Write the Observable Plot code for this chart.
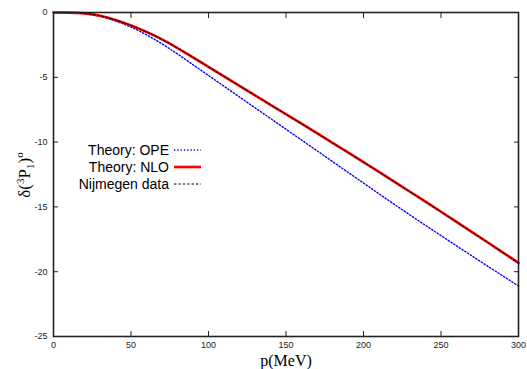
<!DOCTYPE html>
<html>
<head>
<meta charset="utf-8">
<script src="https://cdn.jsdelivr.net/npm/d3@7"></script>
<script src="https://cdn.jsdelivr.net/npm/@observablehq/plot@0.6"></script>
<style>
  html, body { margin: 0; padding: 0; background: #fff; }
  #chart svg { display: block; }
</style>
</head>
<body>
<div id="chart"></div>
<script>
// momentum p (MeV)
const pValues = [0, 10, 20, 30, 40, 50, 60, 70, 80, 90, 100, 110, 120, 130, 140, 150, 160, 170, 180, 190, 200, 210, 220, 230, 240, 250, 260, 270, 280, 290, 300];
// Theory: OPE (blue dotted)
const opeValues = [0, -0.01, -0.09, -0.3, -0.66, -1.13, -1.72, -2.42, -3.2, -4.03, -4.86, -5.69, -6.52, -7.35, -8.18, -9.01, -9.84, -10.67, -11.5, -12.33, -13.16, -13.99, -14.815, -15.625, -16.425, -17.215, -18.005, -18.785, -19.565, -20.335, -21.1];
// Theory: NLO (red solid)
const nloValues = [0, -0.01, -0.07, -0.25, -0.58, -1.0, -1.5, -2.08, -2.74, -3.46, -4.2, -4.93, -5.66, -6.39, -7.12, -7.85, -8.58, -9.315, -10.055, -10.8, -11.55, -12.305, -13.065, -13.83, -14.6, -15.375, -16.155, -16.94, -17.73, -18.525, -19.325];
// Nijmegen data (black dashed)
const nijValues = [0, -0.01, -0.07, -0.25, -0.58, -1.0, -1.5, -2.08, -2.74, -3.46, -4.2, -4.93, -5.66, -6.39, -7.12, -7.85, -8.58, -9.315, -10.055, -10.8, -11.55, -12.305, -13.065, -13.83, -14.6, -15.375, -16.155, -16.94, -17.73, -18.525, -19.34];

const xTicks = [0, 50, 100, 150, 200, 250, 300];
const yTicks = [0, -5, -10, -15, -20, -25];
const seriesNames = ["Theory: OPE", "Theory: NLO", "Nijmegen data"];
const xLabel = "p(MeV)";

const ope = pValues.map((p, i) => ({p, v: opeValues[i]}));
const nlo = pValues.map((p, i) => ({p, v: nloValues[i]}));
const nij = pValues.map((p, i) => ({p, v: nijValues[i]}));

const tickFont = {fontSize: 9, fontFamily: "Liberation Sans, Arial, sans-serif"};

const opeStyle = {stroke: "#0000ff", strokeWidth: 1.4, strokeDasharray: "1.3,2"};
const nloStyle = {stroke: "#ff0000", strokeWidth: 2.6};
const nijStyle = {stroke: "#000", strokeWidth: 1, strokeDasharray: "2.4,2"};

const chart = Plot.plot({
  width: 527,
  height: 369,
  marginLeft: 53,
  marginRight: 9,
  marginTop: 12,
  marginBottom: 33,
  style: {background: "#fff", color: "#222", fontFamily: "Liberation Sans, Arial, sans-serif"},
  x: {domain: [0, 300]},
  y: {domain: [-25, 0]},
  marks: [
    Plot.axisX({anchor: "bottom", ticks: xTicks, tickSize: 0, tickPadding: 5, label: null, ...tickFont, fill: "#222"}),
    Plot.axisX({anchor: "bottom", ticks: xTicks, tickSize: 5, dy: -5, text: null, label: null, stroke: "#222"}),
    Plot.axisX({anchor: "top", ticks: xTicks, tickSize: 5, dy: 5, text: null, label: null, stroke: "#222"}),
    Plot.axisY({anchor: "left", ticks: yTicks, tickSize: 0, tickPadding: 6, label: null, ...tickFont, fill: "#222", tickFormat: d => String(d).replace("\u2212", "-")}),
    Plot.axisY({anchor: "left", ticks: yTicks, tickSize: 5, dx: 5, text: null, label: null, stroke: "#222"}),
    Plot.axisY({anchor: "right", ticks: yTicks, tickSize: 5, dx: -5, text: null, label: null, stroke: "#222"}),
    Plot.line(ope, {x: "p", y: "v", ...opeStyle, curve: "natural"}),
    Plot.line(nlo, {x: "p", y: "v", ...nloStyle, curve: "natural"}),
    Plot.line(nij, {x: "p", y: "v", ...nijStyle, curve: "natural"}),
    Plot.frame({stroke: "#222", strokeWidth: 1.6}),
    Plot.text([xLabel], {frameAnchor: "bottom", lineAnchor: "middle", dy: 24, fontSize: 16, fontFamily: "Liberation Serif, Times New Roman, serif", fill: "#000"})
  ]
});

document.getElementById("chart").appendChild(chart);

const svg = d3.select(chart);
// y-axis label with sub/superscripts
const yl = svg.append("text")
  .attr("transform", "translate(30,175) rotate(-90)")
  .attr("text-anchor", "middle")
  .attr("font-family", "Liberation Serif, Times New Roman, serif")
  .attr("font-size", 17)
  .attr("fill", "#000");
yl.append("tspan").text("δ(");
yl.append("tspan").attr("font-size", 11).attr("dy", -6).text("3");
yl.append("tspan").attr("dy", 6).text("P");
yl.append("tspan").attr("font-size", 11).attr("dy", 4).text("1");
yl.append("tspan").attr("dy", -4).text(")");
yl.append("tspan").attr("font-size", 11).attr("dy", -7).text("o");

// legend
const legendStyles = [opeStyle, nloStyle, nijStyle];
const lg = svg.append("g");
seriesNames.forEach((name, i) => {
  const y = 150 + i * 17;
  lg.append("text")
    .attr("x", 169).attr("y", y).attr("dy", "0.35em")
    .attr("text-anchor", "end")
    .attr("font-family", "Liberation Sans, Arial, sans-serif")
    .attr("font-size", 14)
    .attr("fill", "#000")
    .text(name);
  const s = legendStyles[i];
  const l = lg.append("line")
    .attr("x1", 174).attr("x2", 201).attr("y1", y).attr("y2", y)
    .attr("stroke", s.stroke)
    .attr("stroke-width", s.strokeWidth);
  if (s.strokeDasharray) l.attr("stroke-dasharray", s.strokeDasharray);
});
</script>
</body>
</html>
